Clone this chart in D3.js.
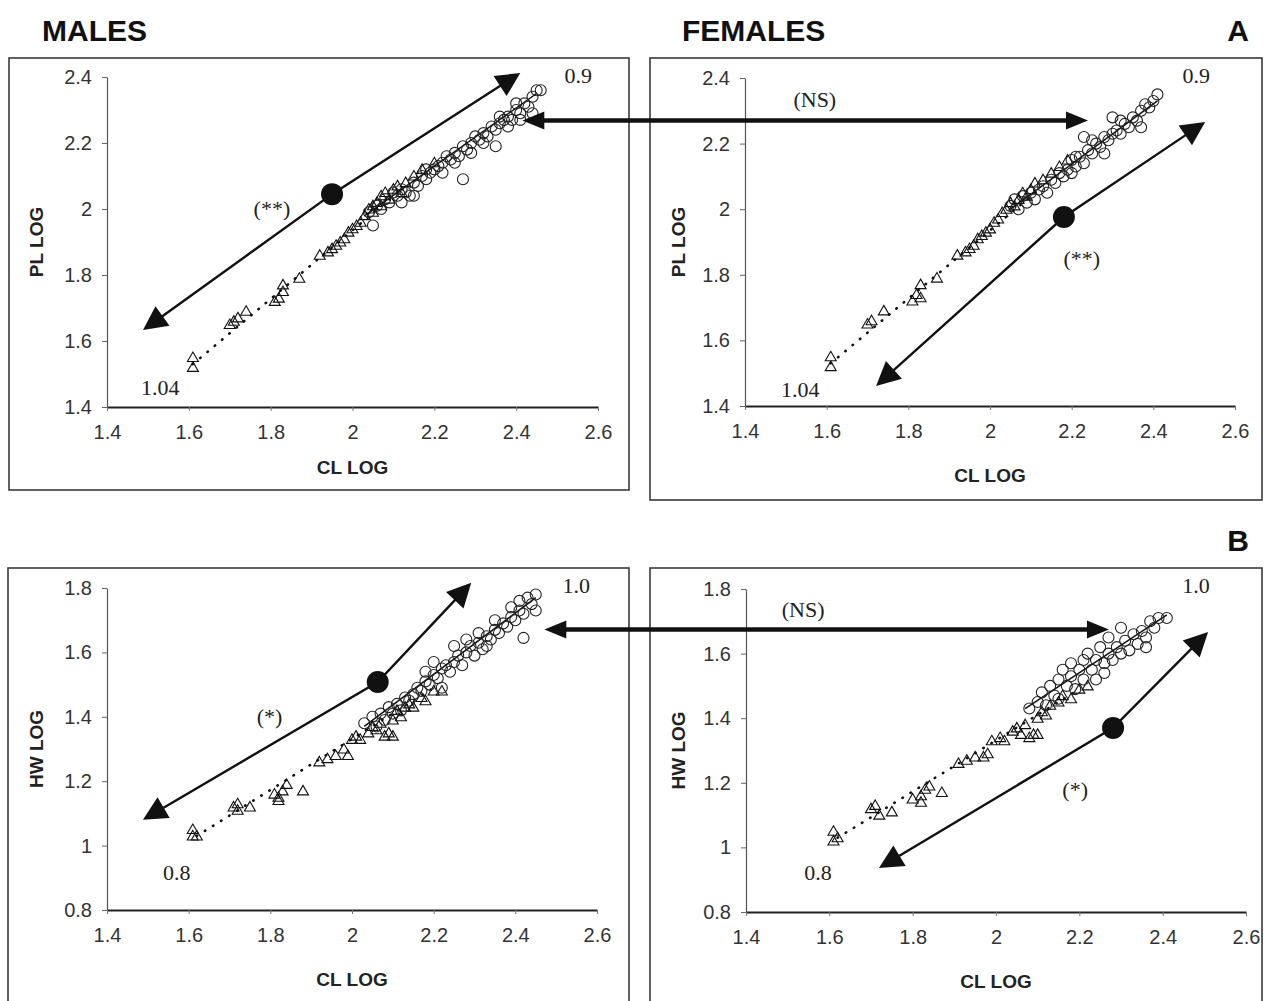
<!DOCTYPE html>
<html>
<head>
<meta charset="utf-8">
<script src="https://cdn.jsdelivr.net/npm/d3@7"></script>
<style>
  body { margin: 0; background: #fff; }
  svg { display: block; font-family: "Liberation Sans", Arial, sans-serif; }
</style>
</head>
<body>
<svg id="chart" width="1268" height="1001"></svg>
<script>
// ---- Axis ticks ----
const clTicks = [1.4, 1.6, 1.8, 2, 2.2, 2.4, 2.6];
const plTicks = [1.4, 1.6, 1.8, 2, 2.2, 2.4];
const hwTicks = [0.8, 1, 1.2, 1.4, 1.6, 1.8];

// ---- PL LOG vs CL LOG, males ----
const malePLJuv = [[1.61,1.55],[1.61,1.52],[1.70,1.65],[1.71,1.66],[1.72,1.67],[1.74,1.69],[1.81,1.72],[1.82,1.73],[1.83,1.75],[1.83,1.77],[1.87,1.79],[1.92,1.86],[1.94,1.87],[1.95,1.88],[1.96,1.89],[1.97,1.90],[1.98,1.91],[1.99,1.93],[2.00,1.94],[2.01,1.95],[2.02,1.96],[2.03,1.98],[2.04,2.00],[2.05,2.01],[2.05,1.99],[2.06,2.02],[2.07,2.04],[2.07,2.01],[2.08,2.05],[2.09,2.03],[2.10,2.06],[2.11,2.07],[2.12,2.05],[2.13,2.08],[2.15,2.10],[2.17,2.12],[2.20,2.14]];
const malePLAdult = [[2.04,1.99],[2.05,1.95],[2.06,2.01],[2.07,2.00],[2.08,2.03],[2.09,2.02],[2.10,2.05],[2.11,2.04],[2.12,2.06],[2.13,2.05],[2.14,2.04],[2.15,2.08],[2.16,2.07],[2.17,2.10],[2.18,2.09],[2.19,2.11],[2.20,2.12],[2.21,2.13],[2.22,2.11],[2.23,2.16],[2.24,2.15],[2.25,2.17],[2.26,2.16],[2.27,2.09],[2.27,2.19],[2.28,2.18],[2.29,2.20],[2.30,2.22],[2.31,2.21],[2.32,2.23],[2.33,2.22],[2.34,2.25],[2.35,2.24],[2.36,2.26],[2.37,2.27],[2.38,2.28],[2.39,2.27],[2.40,2.30],[2.41,2.29],[2.42,2.32],[2.43,2.31],[2.44,2.34],[2.45,2.36],[2.46,2.36],[2.44,2.29],[2.35,2.19],[2.25,2.14],[2.15,2.04],[2.12,2.02],[2.29,2.17],[2.32,2.20],[2.38,2.25],[2.41,2.27],[2.22,2.14],[2.18,2.12],[2.40,2.32],[2.36,2.28]];
const malePLJuvFit = [[1.61,1.53],[2.12,2.06]];
const malePLAdultFit = [[2.03,1.98],[2.45,2.35]];

// ---- PL LOG vs CL LOG, females ----
const femalePLJuv = [[1.61,1.55],[1.61,1.52],[1.70,1.65],[1.71,1.66],[1.74,1.69],[1.81,1.72],[1.82,1.74],[1.83,1.73],[1.83,1.77],[1.87,1.79],[1.92,1.86],[1.94,1.87],[1.95,1.88],[1.96,1.89],[1.97,1.91],[1.98,1.92],[1.99,1.93],[2.00,1.94],[2.01,1.96],[2.02,1.97],[2.03,1.99],[2.04,2.00],[2.05,2.02],[2.06,2.01],[2.07,2.03],[2.08,2.05],[2.09,2.04],[2.10,2.06],[2.11,2.08],[2.13,2.09],[2.15,2.11],[2.17,2.13],[2.19,2.15]];
const femalePLAdult = [[2.05,2.01],[2.06,2.03],[2.07,2.00],[2.08,2.04],[2.09,2.02],[2.10,2.05],[2.11,2.03],[2.12,2.06],[2.13,2.07],[2.14,2.05],[2.15,2.09],[2.16,2.08],[2.17,2.11],[2.18,2.10],[2.19,2.12],[2.20,2.15],[2.20,2.11],[2.21,2.13],[2.22,2.16],[2.23,2.22],[2.23,2.14],[2.24,2.18],[2.25,2.17],[2.26,2.20],[2.27,2.19],[2.28,2.22],[2.29,2.21],[2.30,2.28],[2.30,2.23],[2.31,2.24],[2.32,2.23],[2.33,2.26],[2.34,2.25],[2.35,2.28],[2.36,2.27],[2.37,2.30],[2.38,2.32],[2.39,2.31],[2.40,2.33],[2.41,2.35],[2.37,2.25],[2.28,2.17],[2.25,2.21],[2.32,2.27],[2.21,2.16]];
const femalePLJuvFit = [[1.61,1.53],[2.12,2.06]];
const femalePLAdultFit = [[2.05,2.00],[2.41,2.33]];

// ---- HW LOG vs CL LOG, males ----
const maleHWJuv = [[1.61,1.05],[1.61,1.03],[1.62,1.03],[1.71,1.12],[1.72,1.13],[1.72,1.11],[1.75,1.12],[1.81,1.16],[1.82,1.14],[1.82,1.15],[1.83,1.17],[1.84,1.19],[1.88,1.17],[1.92,1.26],[1.94,1.27],[1.96,1.28],[1.98,1.30],[1.99,1.28],[2.00,1.33],[2.01,1.34],[2.02,1.33],[2.04,1.35],[2.05,1.37],[2.06,1.36],[2.07,1.38],[2.08,1.34],[2.09,1.35],[2.10,1.34],[2.10,1.39],[2.11,1.42],[2.12,1.40],[2.13,1.43],[2.14,1.44],[2.15,1.43],[2.17,1.46],[2.18,1.45],[2.20,1.48],[2.22,1.48]];
const maleHWAdult = [[2.03,1.38],[2.05,1.40],[2.06,1.37],[2.07,1.41],[2.08,1.39],[2.09,1.43],[2.10,1.41],[2.11,1.44],[2.12,1.42],[2.13,1.46],[2.14,1.45],[2.15,1.47],[2.16,1.49],[2.17,1.48],[2.18,1.51],[2.19,1.50],[2.20,1.53],[2.21,1.52],[2.22,1.55],[2.22,1.49],[2.23,1.56],[2.24,1.54],[2.25,1.57],[2.26,1.59],[2.27,1.56],[2.28,1.60],[2.29,1.62],[2.30,1.59],[2.31,1.63],[2.32,1.61],[2.33,1.65],[2.34,1.64],[2.35,1.67],[2.36,1.66],[2.37,1.69],[2.38,1.68],[2.39,1.71],[2.40,1.70],[2.41,1.73],[2.42,1.72],[2.43,1.77],[2.44,1.75],[2.45,1.78],[2.45,1.73],[2.42,1.645],[2.20,1.57],[2.25,1.62],[2.35,1.70],[2.28,1.64],[2.31,1.66],[2.39,1.74],[2.41,1.76],[2.18,1.54],[2.33,1.62]];
const maleHWJuvFit = [[1.62,1.03],[2.20,1.49]];
const maleHWAdultFit = [[2.03,1.37],[2.45,1.77]];

// ---- HW LOG vs CL LOG, females ----
const femaleHWJuv = [[1.61,1.05],[1.61,1.02],[1.62,1.03],[1.70,1.12],[1.71,1.13],[1.72,1.10],[1.75,1.11],[1.80,1.15],[1.82,1.14],[1.82,1.16],[1.83,1.18],[1.84,1.19],[1.87,1.17],[1.91,1.26],[1.93,1.27],[1.95,1.28],[1.97,1.28],[1.98,1.29],[1.99,1.33],[2.01,1.34],[2.02,1.33],[2.04,1.36],[2.05,1.37],[2.06,1.35],[2.07,1.38],[2.08,1.34],[2.09,1.35],[2.10,1.35],[2.10,1.40],[2.11,1.42],[2.12,1.41],[2.13,1.44],[2.15,1.45],[2.16,1.47],[2.18,1.46],[2.20,1.49],[2.22,1.50]];
const femaleHWAdult = [[2.08,1.43],[2.10,1.45],[2.11,1.48],[2.12,1.44],[2.13,1.50],[2.14,1.47],[2.15,1.52],[2.15,1.46],[2.16,1.55],[2.17,1.50],[2.18,1.53],[2.18,1.57],[2.19,1.49],[2.20,1.55],[2.21,1.58],[2.21,1.52],[2.22,1.60],[2.23,1.55],[2.24,1.58],[2.24,1.52],[2.25,1.62],[2.26,1.57],[2.27,1.60],[2.27,1.65],[2.28,1.58],[2.29,1.62],[2.30,1.68],[2.30,1.60],[2.31,1.64],[2.32,1.61],[2.33,1.66],[2.34,1.63],[2.35,1.67],[2.36,1.65],[2.37,1.70],[2.38,1.68],[2.39,1.71],[2.41,1.71],[2.36,1.62],[2.26,1.54]];
const femaleHWJuvFit = [[1.62,1.03],[2.20,1.49]];
const femaleHWAdultFit = [[2.07,1.43],[2.41,1.72]];

// ---- Annotations (data units): slope arrows lower tip -> mean point -> upper tip ----
const malePLArrow = [[1.488,1.633],[1.950,2.045],[2.410,2.412]];
const femalePLArrow = [[1.721,1.461],[2.181,1.976],[2.527,2.266]];
const maleHWArrow = [[1.488,1.080],[2.063,1.508],[2.292,1.816]];
const femaleHWArrow = [[1.719,0.936],[2.281,1.370],[2.509,1.667]];

const malePLNotes = [{t:"(**)", at:[1.803,2.003]}, {t:"0.9", at:[2.552,2.406]}, {t:"1.04", at:[1.530,1.458]}];
const femalePLNotes = [{t:"(**)", at:[2.225,1.851]}, {t:"0.9", at:[2.505,2.409]}, {t:"1.04", at:[1.535,1.449]}, {t:"(NS)", at:[1.571,2.333]}];
const maleHWNotes = [{t:"(*)", at:[1.798,1.400]}, {t:"1.0", at:[2.549,1.809]}, {t:"0.8", at:[1.571,0.918]}];
const femaleHWNotes = [{t:"(*)", at:[2.190,1.178]}, {t:"1.0", at:[2.480,1.812]}, {t:"0.8", at:[1.573,0.921]}, {t:"(NS)", at:[1.537,1.735]}];

// Between-sex comparison arrows: [male CL, female CL, level]
const plCompare = [2.415, 2.240, 2.268];
const hwCompare = [2.471, 2.271, 1.671];

const svg = d3.select("#chart");

// ---- Panel layout ----
const panels = [
  { frame:[9,58,620,432], xr:[107,598], yr:[407,77], ydom:[1.4,2.4], yt:plTicks, ytitle:"PL LOG",
    xTitleY:474, yTitleX:36, juv:malePLJuv, adult:malePLAdult, jf:malePLJuvFit, af:malePLAdultFit,
    arrow:malePLArrow, notes:malePLNotes },
  { frame:[650,58,612,442], xr:[745,1235], yr:[406,78], ydom:[1.4,2.4], yt:plTicks, ytitle:"PL LOG",
    xTitleY:482, yTitleX:678, juv:femalePLJuv, adult:femalePLAdult, jf:femalePLJuvFit, af:femalePLAdultFit,
    arrow:femalePLArrow, notes:femalePLNotes },
  { frame:[8,568,621,450], xr:[107,597], yr:[910,588], ydom:[0.8,1.8], yt:hwTicks, ytitle:"HW LOG",
    xTitleY:986, yTitleX:36, juv:maleHWJuv, adult:maleHWAdult, jf:maleHWJuvFit, af:maleHWAdultFit,
    arrow:maleHWArrow, notes:maleHWNotes },
  { frame:[650,568,612,450], xr:[746,1246], yr:[912,589], ydom:[0.8,1.8], yt:hwTicks, ytitle:"HW LOG",
    xTitleY:988, yTitleX:678, juv:femaleHWJuv, adult:femaleHWAdult, jf:femaleHWJuvFit, af:femaleHWAdultFit,
    arrow:femaleHWArrow, notes:femaleHWNotes }
];

const fmt = d3.format("~g");
const triPath = "M0,-5.5L5.5,4L-5.5,4Z";

// Filled triangular head with its tip at `tip`, pointing away from `from`
function headPath(tip, from, len, wid) {
  const dx = tip[0] - from[0], dy = tip[1] - from[1];
  const d = Math.hypot(dx, dy), ux = dx / d, uy = dy / d;
  const bx = tip[0] - ux * len, by = tip[1] - uy * len;
  const px = -uy * wid / 2, py = ux * wid / 2;
  return `M${tip[0]},${tip[1]}L${bx + px},${by + py}L${bx - px},${by - py}Z`;
}
function backOff(tip, from, len) {
  const dx = tip[0] - from[0], dy = tip[1] - from[1];
  const d = Math.hypot(dx, dy);
  return [tip[0] - dx / d * len, tip[1] - dy / d * len];
}

panels.forEach(p => {
  const g = svg.append("g");
  const x = d3.scaleLinear().domain([1.4, 2.6]).range(p.xr);
  const y = d3.scaleLinear().domain(p.ydom).range(p.yr);
  p.x = x; p.y = y;

  g.append("rect")
    .attr("x", p.frame[0]).attr("y", p.frame[1])
    .attr("width", p.frame[2]).attr("height", p.frame[3])
    .attr("fill", "none").attr("stroke", "#3a3a3a").attr("stroke-width", 1.6);

  // y axis
  const ya = g.append("g").attr("transform", `translate(${p.xr[0]},0)`)
    .call(d3.axisLeft(y).tickValues(p.yt).tickFormat(fmt).tickSize(5).tickSizeOuter(0).tickPadding(10));
  ya.select(".domain").attr("stroke", "#555").attr("stroke-width", 1.2);
  ya.selectAll(".tick line").attr("stroke", "#666");
  ya.selectAll(".tick text").attr("font-size", 20).attr("fill", "#333")
    .attr("font-family", "'Liberation Sans', Arial, sans-serif");

  // x axis
  const xa = g.append("g").attr("transform", `translate(0,${p.yr[0]})`)
    .call(d3.axisBottom(x).tickValues(clTicks).tickFormat(fmt).tickSize(4).tickSizeOuter(0).tickPadding(14));
  xa.select(".domain").attr("stroke", "#222").attr("stroke-width", 2.2);
  xa.selectAll(".tick line").attr("stroke", "#777");
  xa.selectAll(".tick text").attr("font-size", 20).attr("fill", "#333")
    .attr("font-family", "'Liberation Sans', Arial, sans-serif");

  // axis titles
  g.append("text").attr("x", (p.xr[0] + p.xr[1]) / 2).attr("y", p.xTitleY)
    .attr("text-anchor", "middle").attr("font-weight", "bold").attr("font-size", 19)
    .attr("fill", "#222").text("CL LOG");
  g.append("text")
    .attr("transform", `translate(${p.yTitleX},${(p.yr[0] + p.yr[1]) / 2}) rotate(-90)`)
    .attr("text-anchor", "middle").attr("dominant-baseline", "central")
    .attr("font-weight", "bold").attr("font-size", 19).attr("fill", "#222").text(p.ytitle);

  // regression lines
  const line = d3.line().x(d => x(d[0])).y(d => y(d[1]));
  g.append("path").attr("d", line(p.jf)).attr("fill", "none").attr("stroke", "#111")
    .attr("stroke-width", 2.6).attr("stroke-linecap", "round").attr("stroke-dasharray", "0.5,9");
  g.append("path").attr("d", line(p.af)).attr("fill", "none").attr("stroke", "#111")
    .attr("stroke-width", 1.5);

  // points
  g.append("g").selectAll("path").data(p.juv).join("path")
    .attr("d", triPath).attr("transform", d => `translate(${x(d[0])},${y(d[1])})`)
    .attr("fill", "none").attr("stroke", "#111").attr("stroke-width", 1.1);
  g.append("g").selectAll("circle").data(p.adult).join("circle")
    .attr("cx", d => x(d[0])).attr("cy", d => y(d[1])).attr("r", 5.5)
    .attr("fill", "none").attr("stroke", "#222").attr("stroke-width", 1.1);

  // slope arrow through the mean point
  const pts = p.arrow.map(d => [x(d[0]), y(d[1])]);
  const [lo, mid, hi] = pts;
  const head = 24, wid = 24;
  g.append("path")
    .attr("d", d3.line()([backOff(lo, mid, head - 4), mid, backOff(hi, mid, head - 4)]))
    .attr("fill", "none").attr("stroke", "#111").attr("stroke-width", 2.4);
  g.append("path").attr("d", headPath(lo, mid, head, wid)).attr("fill", "#111");
  g.append("path").attr("d", headPath(hi, mid, head, wid)).attr("fill", "#111");
  g.append("circle").attr("cx", mid[0]).attr("cy", mid[1]).attr("r", 11).attr("fill", "#111");

  // notes
  g.append("g").selectAll("text").data(p.notes).join("text")
    .attr("x", d => x(d.at[0])).attr("y", d => y(d.at[1]))
    .attr("text-anchor", "middle").attr("dominant-baseline", "central")
    .attr("font-family", "'Liberation Serif', 'Times New Roman', serif")
    .attr("font-size", 22).attr("fill", "#222").text(d => d.t);
});

// ---- Between-sex comparison arrows ----
function compareArrow(pm, pf, c) {
  const yv = pm.y(c[2]);
  const a = [pm.x(c[0]), yv], b = [pf.x(c[1]), yv];
  const len = 22, wid = 18;
  svg.append("line").attr("x1", a[0] + len - 2).attr("x2", b[0] - len + 2)
    .attr("y1", yv).attr("y2", yv).attr("stroke", "#111").attr("stroke-width", 4.5);
  svg.append("path").attr("d", headPath(a, b, len, wid)).attr("fill", "#111");
  svg.append("path").attr("d", headPath(b, a, len, wid)).attr("fill", "#111");
}
compareArrow(panels[0], panels[1], plCompare);
compareArrow(panels[2], panels[3], hwCompare);

// ---- Headings ----
const headings = [
  { t: "MALES", x: 42, y: 41, anchor: "start" },
  { t: "FEMALES", x: 682, y: 41, anchor: "start" },
  { t: "A", x: 1238, y: 41, anchor: "middle" },
  { t: "B", x: 1238, y: 551, anchor: "middle" }
];
svg.append("g").selectAll("text").data(headings).join("text")
  .attr("x", d => d.x).attr("y", d => d.y).attr("text-anchor", d => d.anchor)
  .attr("font-weight", "bold").attr("font-size", 30).attr("fill", "#111")
  .text(d => d.t);
</script>
</body>
</html>
